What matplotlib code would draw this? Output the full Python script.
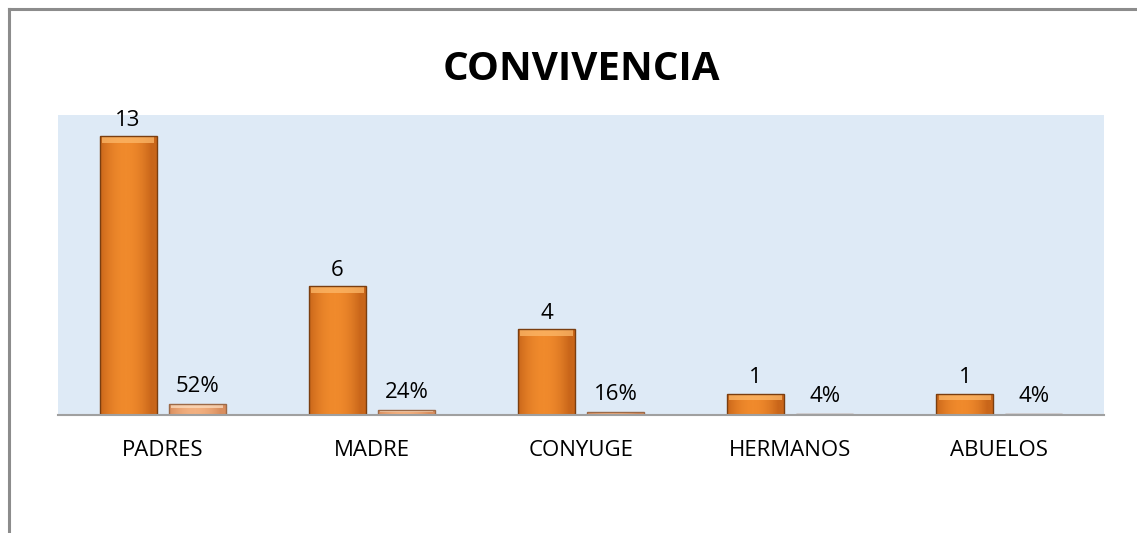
import numpy as np
import matplotlib.pyplot as plt
from matplotlib.lines import Line2D

categorias = ["PADRES", "MADRE", "CONYUGE", "HERMANOS", "ABUELOS"]
cantidad = [13, 6, 4, 1, 1]
porcentaje = [0.52, 0.24, 0.16, 0.04, 0.04]
etiq_pct = ["52%", "24%", "16%", "4%", "4%"]

plt.rcParams['font.family'] = ['Open Sans', 'DejaVu Sans']

fig = plt.figure(figsize=(11.37, 5.33), dpi=100)
ax = fig.add_axes([58 / 1137, (533 - 415) / 533, (1104 - 58) / 1137, (415 - 115) / 533])
ax.set_facecolor('#DEEAF6')

x = np.arange(len(categorias))
w = 0.272
off = 0.165


def bar_grad(ax, xs, hs, c_dark, c_mid, c_light, edge):
    bars = ax.bar(xs, hs, w, color=c_mid, edgecolor=edge, linewidth=1.0, zorder=3)
    grad = np.linspace(0, 1, 64)
    grad = np.clip(np.abs(grad - 0.45) * 2.2, 0, 1) ** 2
    cmap = plt.matplotlib.colors.LinearSegmentedColormap.from_list('g', [c_mid, c_dark])
    for b in bars:
        x0, y0 = b.get_x(), b.get_y()
        bw, bh = b.get_width(), b.get_height()
        if bh <= 0:
            continue
        im = ax.imshow(grad[None, :], extent=[x0, x0 + bw, y0, y0 + bh], aspect='auto',
                       cmap=cmap, zorder=3.5, origin='lower')
        im.set_clip_path(b)
        # bisel superior
        bev = min(0.3, bh * 0.35)
        ax.fill_between([x0 + 0.01, x0 + bw - 0.01], y0 + bh - bev, y0 + bh,
                        color=c_light, alpha=0.75, zorder=3.6, linewidth=0)
        b.set_zorder(4)
        b.set_facecolor('none')
    return bars


bar_grad(ax, x - off, cantidad, '#C9661A', '#F08A2C', '#FDB96A', '#7A3E10')
bar_grad(ax, x + off, porcentaje, '#D98E5E', '#F2B080', '#FCDDBF', '#9C6A48')

for xi, v in zip(x, cantidad):
    ax.annotate(str(v), (xi - off, v), xytext=(0, 4), textcoords='offset points',
                ha='center', va='bottom', fontsize=16, color='#000000')
for xi, v, t in zip(x, porcentaje, etiq_pct):
    ax.annotate(t, (xi + off, v), xytext=(0, 5), textcoords='offset points',
                ha='center', va='bottom', fontsize=16, color='#000000')

ax.set_xlim(-0.5, len(categorias) - 0.5)
ax.set_ylim(0, 14)
ax.set_xticks(x)
ax.set_xticklabels(categorias, fontsize=16)
ax.tick_params(axis='x', length=0, pad=18)
ax.set_yticks([])
for s in ['top', 'right', 'left']:
    ax.spines[s].set_visible(False)
ax.spines['bottom'].set_color('#A0A0A0')
ax.spines['bottom'].set_linewidth(1.5)
ax.spines['bottom'].set_zorder(5)

fig.text(581 / 1137, 1 - 69 / 533, "CONVIVENCIA", ha='center', va='center',
         fontsize=29, fontweight='bold')

# marco exterior (solo arriba e izquierda visibles)
fig.add_artist(Line2D([9 / 1137, 9 / 1137], [0, 1 - 9 / 533], color='#8C8C8C', lw=2.2,
                      transform=fig.transFigure))
fig.add_artist(Line2D([9 / 1137, 1], [1 - 9 / 533, 1 - 9 / 533], color='#8C8C8C', lw=2.2,
                      transform=fig.transFigure))

fig.savefig('out.png', dpi=100)
